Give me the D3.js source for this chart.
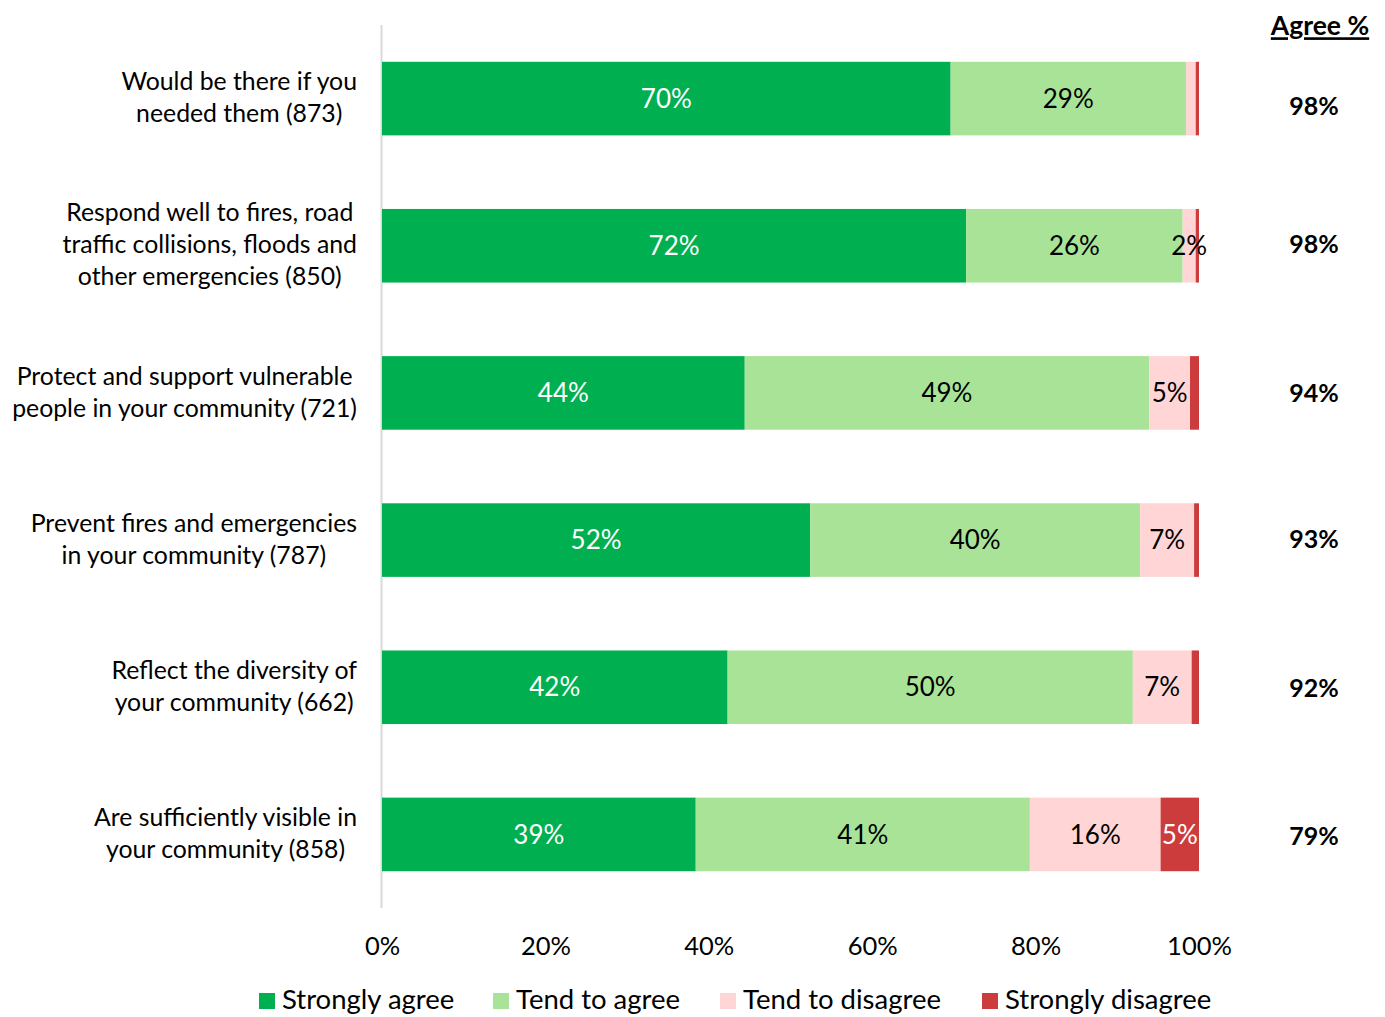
<!DOCTYPE html>
<html>
<head>
<meta charset="utf-8">
<script src="https://cdn.jsdelivr.net/npm/d3@7"></script>
<style>
  body { margin: 0; background: #fff; }
  text { font-family: Lato, "Open Sans", sans-serif; }
</style>
</head>
<body>
<svg id="chart"></svg>
<script>
var width = 1385,
    height = 1017;

// questions (one entry per bar, lines as shown)
var categories = [
    ["Would be there if you", "needed them (873)"],
    ["Respond well to fires, road", "traffic collisions, floods and", "other emergencies (850)"],
    ["Protect and support vulnerable", "people in your community (721)"],
    ["Prevent fires and emergencies", "in your community (787)"],
    ["Reflect the diversity of", "your community (662)"],
    ["Are sufficiently visible in", "your community (858)"]
];

var seriesNames = ["Strongly agree", "Tend to agree", "Tend to disagree", "Strongly disagree"];

var stronglyAgree    = [69.6, 71.5, 44.4, 52.4, 42.3, 38.4];
var tendToAgree      = [28.8, 26.5, 49.5, 40.4, 49.6, 40.9];
var tendToDisagree   = [1.2, 1.6, 5.0, 6.6, 7.2, 16.0];
var stronglyDisagree = [0.4, 0.4, 1.1, 0.6, 0.9, 4.7];

// labels printed on the bars (null = not shown)
var labelsSA = ["70%", "72%", "44%", "52%", "42%", "39%"];
var labelsTA = ["29%", "26%", "49%", "40%", "50%", "41%"];
var labelsTD = [null, "2%", "5%", "7%", "7%", "16%"];
var labelsSD = [null, null, null, null, null, "5%"];

var agreeTotals = ["98%", "98%", "94%", "93%", "92%", "79%"];
var tickValues = [0, 20, 40, 60, 80, 100];

var colors = ["#00b050", "#a9e397", "#ffd5d5", "#cd3c3c"],
    labelColors = ["#fff", "#000", "#000", "#fff"];

var svg = d3.select("#chart").attr("width", width).attr("height", height);

var x = d3.scaleLinear().domain([0, 100]).range([382, 1199]);
var y = d3.scaleBand().domain(d3.range(categories.length)).range([25, 908]).paddingInner(0.5).paddingOuter(0.25);

var values = [stronglyAgree, tendToAgree, tendToDisagree, stronglyDisagree],
    labels = [labelsSA, labelsTA, labelsTD, labelsSD];

var rows = categories.map(function(c, i) {
    var r = {i: i};
    seriesNames.forEach(function(s, k) { r[s] = values[k][i]; });
    return r;
});

var stack = d3.stack().keys(seriesNames)(rows);

// vertical axis line
svg.append("line")
    .attr("x1", x(0) - 0.5).attr("x2", x(0) - 0.5)
    .attr("y1", 25).attr("y2", 908)
    .attr("stroke", "#d9d9d9").attr("stroke-width", 2);

var layers = svg.selectAll("g.layer").data(stack).join("g")
    .attr("class", "layer")
    .attr("fill", (d, k) => colors[k]);

layers.selectAll("rect").data(d => d).join("rect")
    .attr("x", d => x(d[0]))
    .attr("width", d => x(d[1]) - x(d[0]))
    .attr("y", d => y(d.data.i))
    .attr("height", y.bandwidth());

stack.forEach(function(layer, k) {
    svg.append("g").selectAll("text").data(layer.filter(d => labels[k][d.data.i])).join("text")
        .attr("x", d => (x(d[0]) + x(d[1])) / 2)
        .attr("y", d => y(d.data.i) + y.bandwidth() / 2)
        .attr("dy", "0.35em")
        .attr("text-anchor", "middle")
        .attr("font-size", 26)
        .attr("fill", labelColors[k])
        .text(d => labels[k][d.data.i]);
});

// category labels: block right aligned, lines centred inside the block
categories.forEach(function(lines, i) {
    var g = svg.append("g");
    var lh = 32,
        cy = y(i) + y.bandwidth() / 2 - 1,
        top = cy - (lines.length - 1) * lh / 2;
    var t = g.selectAll("text").data(lines).join("text")
        .attr("y", (d, j) => top + j * lh)
        .attr("dy", "0.35em")
        .attr("text-anchor", "middle")
        .attr("font-size", 24.8)
        .attr("fill", "#000")
        .text(d => d);
    var maxW = d3.max(t.nodes(), n => n.getComputedTextLength());
    t.attr("x", 357 - maxW / 2);
});

// Agree % column
svg.append("text")
    .attr("x", 1320).attr("y", 26).attr("dy", "0.35em")
    .attr("text-anchor", "middle")
    .attr("font-size", 26.5).attr("font-weight", "bold")
    .attr("text-decoration", "underline")
    .text("Agree %");

// Excel places these labels slightly off the bar centres
var agreeNudge = [8, -2, 0, -1, 1, 2];
svg.append("g").selectAll("text").data(agreeTotals).join("text")
    .attr("x", 1314)
    .attr("y", (d, i) => y(i) + y.bandwidth() / 2 + agreeNudge[i])
    .attr("dy", "0.35em")
    .attr("text-anchor", "middle")
    .attr("font-size", 25).attr("font-weight", "bold")
    .text(d => d);

// x axis
var xAxis = svg.append("g")
    .attr("transform", "translate(0,932)")
    .call(d3.axisBottom(x).tickValues(tickValues).tickFormat(d => d + "%").tickSize(0).tickPadding(0));
xAxis.select(".domain").remove();
xAxis.selectAll("text")
    .attr("dy", "0.35em").attr("y", 14)
    .attr("font-size", 25.5).attr("fill", "#000")
    .style("font-family", "Lato, 'Open Sans', sans-serif");

// legend
var legendX = [259, 493, 720, 982];
var legend = svg.append("g").selectAll("g").data(seriesNames).join("g")
    .attr("transform", (d, k) => "translate(" + legendX[k] + ",999)");
legend.append("rect")
    .attr("x", 0).attr("y", -6).attr("width", 16).attr("height", 16)
    .attr("fill", (d, k) => colors[k]);
legend.append("text")
    .attr("x", 23).attr("dy", "0.35em")
    .attr("font-size", 27.5)
    .text(d => d);
</script>
</body>
</html>
